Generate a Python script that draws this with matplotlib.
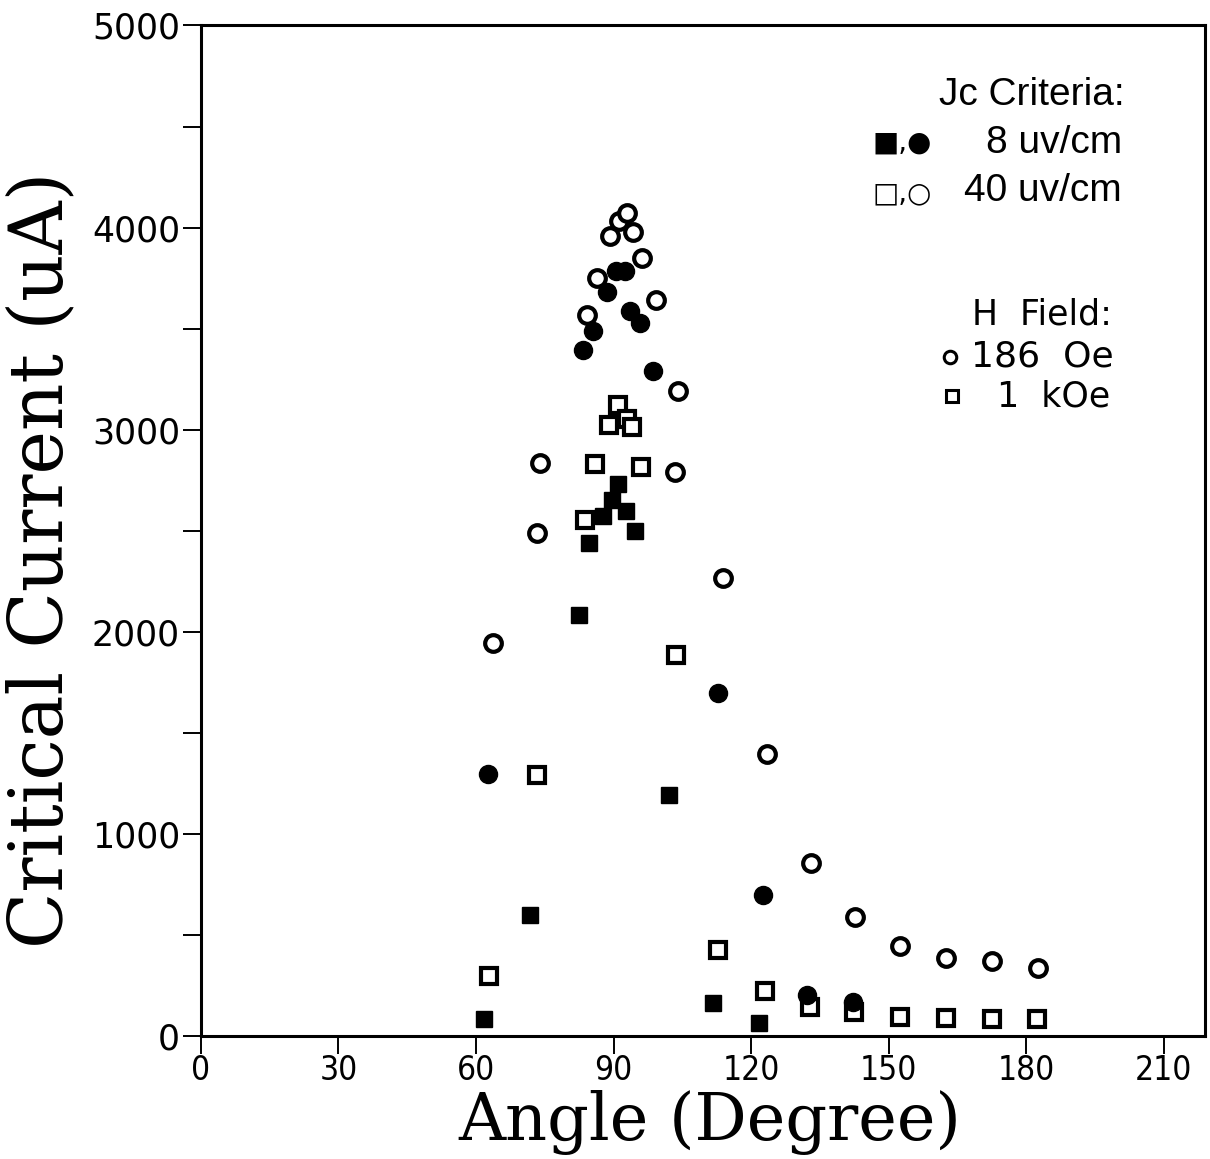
import matplotlib
matplotlib.use("Agg")
import matplotlib.pyplot as plt
from matplotlib.ticker import MultipleLocator

# Critical current vs. field angle, two voltage criteria at two applied fields.
# 186 Oe, 8 uV/cm (filled circles)
ang_c8 = [62.6, 83.3, 85.5, 88.5, 90.5, 92.5, 93.6, 95.7, 98.6, 112.8, 122.6, 132.2, 142.2]
ic_c8 = [1296, 3396, 3490, 3682, 3786, 3786, 3587, 3527, 3289, 1698, 700, 204, 167]

# 186 Oe, 40 uV/cm (open circles)
ang_c40 = [63.7, 73.3, 73.9, 84.2, 86.4, 89.2, 91.2, 92.9, 94.2, 96.2, 99.2, 104.0,
           103.4, 113.9, 123.4, 133.0, 142.6, 152.5, 162.5, 172.5, 182.5]
ic_c40 = [1944, 2491, 2838, 3569, 3751, 3959, 4033, 4073, 3979, 3850, 3642, 3194,
          2793, 2266, 1394, 857, 588, 448, 386, 370, 338]

# 1 kOe, 8 uV/cm (filled squares)
ang_s8 = [61.7, 71.8, 82.4, 84.6, 87.7, 89.6, 90.9, 92.7, 94.7, 102.1, 111.7, 121.7]
ic_s8 = [83, 601, 2084, 2440, 2573, 2652, 2731, 2598, 2498, 1195, 163, 67]

# 1 kOe, 40 uV/cm (open squares)
ang_s40 = [62.8, 73.3, 83.8, 85.9, 89.0, 90.9, 92.9, 94.0, 96.0, 103.6, 112.8, 123.0,
           132.8, 142.4, 152.5, 162.5, 172.5, 182.3]
ic_s40 = [296, 1294, 2554, 2831, 3023, 3122, 3052, 3012, 2814, 1887, 425, 225,
          144, 118, 96, 89, 87, 85]

x_ticks = [0, 30, 60, 90, 120, 150, 180, 210]
y_ticks = [0, 1000, 2000, 3000, 4000, 5000]

fig = plt.figure(figsize=(12.1, 11.59), dpi=100)
ax = fig.add_axes([0.166, 0.106, 0.830, 0.872])

ax.plot(ang_c40, ic_c40, 'o', ms=12, mfc='white', mec='black', mew=3.0, ls='none')
ax.plot(ang_s40, ic_s40, 's', ms=11, mfc='white', mec='black', mew=3.0, ls='none')
ax.plot(ang_c8, ic_c8, 'o', ms=13, color='black', ls='none')
ax.plot(ang_s8, ic_s8, 's', ms=11.5, color='black', ls='none')

ax.set_xlim(0, 219)
ax.set_ylim(0, 5000)
ax.set_xticks(x_ticks)
ax.set_yticks(y_ticks)
ax.yaxis.set_minor_locator(MultipleLocator(500))

for s in ax.spines.values():
    s.set_linewidth(2.2)
ax.tick_params(axis='both', which='both', direction='out', width=1.4, colors='black')
ax.tick_params(axis='x', which='major', length=13, pad=0)
ax.tick_params(axis='y', which='major', length=13, pad=2)
ax.tick_params(axis='y', which='minor', length=13)

for lab in ax.get_xticklabels():
    lab.set_family('DejaVu Sans')
    lab.set_stretch('condensed')
    lab.set_fontsize(24)
for lab in ax.get_yticklabels():
    lab.set_family('DejaVu Sans')
    lab.set_fontsize(25)

ax.set_xlabel('Angle (Degree)', family='DejaVu Serif', fontsize=47, va='center')
ax.xaxis.set_label_coords(0.507, -0.085)
ax.set_ylabel('Critical Current (uA)', family='DejaVu Serif', fontsize=53, va='center')
ax.yaxis.set_label_coords(-0.158, 0.471)

# Legend block: voltage criteria
tr = ax.transAxes
ax.text(0.920, 0.931, 'Jc Criteria:', transform=tr, ha='right', va='center',
        family='Liberation Sans', fontsize=28)
ax.text(0.917, 0.884, '8 uv/cm', transform=tr, ha='right', va='center',
        family='Liberation Sans', fontsize=28)
ax.text(0.917, 0.836, '40 uv/cm', transform=tr, ha='right', va='center',
        family='Liberation Sans', fontsize=28)
ax.text(0.698, 0.884, '\u25A0,\u25CF', transform=tr, ha='center', va='center',
        family='DejaVu Sans', fontsize=20)
ax.text(0.698, 0.834, '\u25A1,\u25CB', transform=tr, ha='center', va='center',
        family='DejaVu Sans', fontsize=20)

# Legend block: applied field
ax.text(0.907, 0.714, 'H  Field:', transform=tr, ha='right', va='center',
        family='DejaVu Sans', fontsize=25)
ax.text(0.909, 0.672, '186  Oe', transform=tr, ha='right', va='center',
        family='DejaVu Sans', fontsize=26)
ax.text(0.905, 0.633, '1  kOe', transform=tr, ha='right', va='center',
        family='DejaVu Sans', fontsize=25)
ax.plot([0.746], [0.672], 'o', transform=tr, ms=9, mfc='white', mec='black', mew=2.2,
        clip_on=False)
ax.plot([0.748], [0.633], 's', transform=tr, ms=8, mfc='white', mec='black', mew=2.2,
        clip_on=False)

fig.savefig('out.png', dpi=100)
